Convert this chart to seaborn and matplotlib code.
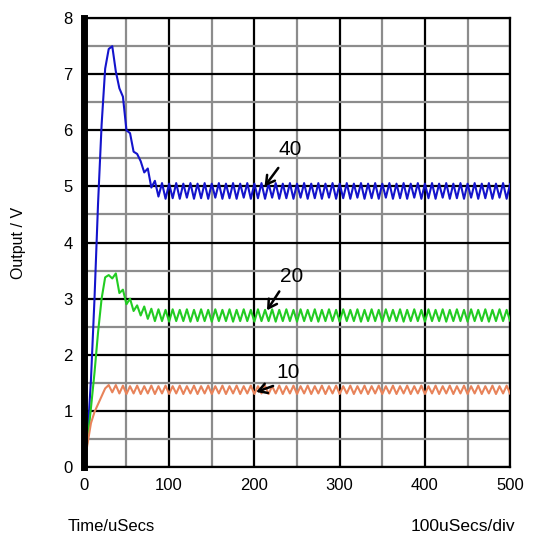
import numpy as np
import pandas as pd
import matplotlib
matplotlib.use("Agg")
import matplotlib.pyplot as plt
import seaborn as sns

# ── Data (one sample every half ripple period) ───────────────────────────────
# ripple period ~8.33 uSecs -> samples every 4.17 uSecs, 121 samples over 500
TIME_US = np.linspace(0, 500, 121)

OUT_40 = [
    0.00, 0.50, 1.55, 3.00, 4.70, 6.10, 7.10, 7.45, 7.50, 7.05,
    6.75, 6.60, 6.00, 5.95, 5.62, 5.58, 5.45, 5.25, 5.32, 4.98,
    5.10, 4.82, 5.06, 4.78, 5.05, 4.79, 5.06, 4.78, 5.05, 4.80,
    5.06, 4.78, 5.05, 4.79, 5.06, 4.78, 5.05, 4.80, 5.06, 4.78,
    5.05, 4.79, 5.06, 4.78, 5.05, 4.80, 5.06, 4.78, 5.05, 4.79,
    5.06, 4.78, 5.05, 4.80, 5.06, 4.78, 5.05, 4.79, 5.06, 4.78,
    5.05, 4.80, 5.06, 4.78, 5.05, 4.79, 5.06, 4.78, 5.05, 4.80,
    5.06, 4.78, 5.05, 4.79, 5.06, 4.78, 5.05, 4.80, 5.06, 4.78,
    5.05, 4.79, 5.06, 4.78, 5.05, 4.80, 5.06, 4.78, 5.05, 4.79,
    5.06, 4.78, 5.05, 4.80, 5.06, 4.78, 5.05, 4.79, 5.06, 4.78,
    5.05, 4.80, 5.06, 4.78, 5.05, 4.79, 5.06, 4.78, 5.05, 4.80,
    5.06, 4.78, 5.05, 4.79, 5.06, 4.78, 5.05, 4.80, 5.06, 4.78,
    5.05,
]

OUT_20 = [
    0.00, 0.45, 1.05, 1.68, 2.40, 3.00, 3.38, 3.42, 3.36, 3.45,
    3.10, 3.16, 2.90, 3.00, 2.78, 2.88, 2.70, 2.86, 2.64, 2.82,
    2.60, 2.81, 2.60, 2.80, 2.59, 2.81, 2.60, 2.80, 2.60, 2.81,
    2.59, 2.80, 2.60, 2.81, 2.60, 2.80, 2.59, 2.81, 2.60, 2.80,
    2.60, 2.81, 2.59, 2.80, 2.60, 2.81, 2.60, 2.80, 2.59, 2.81,
    2.60, 2.80, 2.60, 2.81, 2.59, 2.80, 2.60, 2.81, 2.60, 2.80,
    2.59, 2.81, 2.60, 2.80, 2.60, 2.81, 2.59, 2.80, 2.60, 2.81,
    2.60, 2.80, 2.59, 2.81, 2.60, 2.80, 2.60, 2.81, 2.59, 2.80,
    2.60, 2.81, 2.60, 2.80, 2.59, 2.81, 2.60, 2.80, 2.60, 2.81,
    2.59, 2.80, 2.60, 2.81, 2.60, 2.80, 2.59, 2.81, 2.60, 2.80,
    2.60, 2.81, 2.59, 2.80, 2.60, 2.81, 2.60, 2.80, 2.59, 2.81,
    2.60, 2.80, 2.60, 2.81, 2.59, 2.80, 2.60, 2.81, 2.60, 2.80,
    2.60,
]

OUT_10 = [
    0.00, 0.40, 0.78, 0.98, 1.12, 1.26, 1.40, 1.46, 1.33, 1.46,
    1.31, 1.45, 1.30, 1.44, 1.31, 1.45, 1.30, 1.44, 1.31, 1.45,
    1.30, 1.44, 1.31, 1.45, 1.30, 1.44, 1.31, 1.45, 1.30, 1.44,
    1.31, 1.45, 1.30, 1.44, 1.31, 1.45, 1.30, 1.44, 1.31, 1.45,
    1.30, 1.44, 1.31, 1.45, 1.30, 1.44, 1.31, 1.45, 1.30, 1.44,
    1.31, 1.45, 1.30, 1.44, 1.31, 1.45, 1.30, 1.44, 1.31, 1.45,
    1.30, 1.44, 1.31, 1.45, 1.30, 1.44, 1.31, 1.45, 1.30, 1.44,
    1.31, 1.45, 1.30, 1.44, 1.31, 1.45, 1.30, 1.44, 1.31, 1.45,
    1.30, 1.44, 1.31, 1.45, 1.30, 1.44, 1.31, 1.45, 1.30, 1.44,
    1.31, 1.45, 1.30, 1.44, 1.31, 1.45, 1.30, 1.44, 1.31, 1.45,
    1.30, 1.44, 1.31, 1.45, 1.30, 1.44, 1.31, 1.45, 1.30, 1.44,
    1.31, 1.45, 1.30, 1.44, 1.31, 1.45, 1.30, 1.44, 1.31, 1.45,
    1.30,
]

GAINS  = ["40", "20", "10"]
COLORS = ["#1414cc", "#22cc22", "#e8835a"]

# label text position, arrow tail, arrow head (data coords)
LABEL_POS  = [(242, 5.65), (244, 3.39), (239, 1.68)]
ARROW_TAIL = [(230, 5.37), (231, 3.17), (225, 1.46)]
ARROW_HEAD = [(210, 4.96), (213, 2.75), (199, 1.32)]

X_MAJOR = np.arange(0, 501, 100)
Y_MAJOR = np.arange(0, 9, 1)

# ── Long-form frame ──────────────────────────────────────────────────────────
df = pd.concat([
    pd.DataFrame({"t": TIME_US, "v": vals, "gain": g})
    for g, vals in zip(GAINS, [OUT_40, OUT_20, OUT_10])
])

# ── Figure ───────────────────────────────────────────────────────────────────
sns.set_style("white")
plt.rcParams["font.family"] = ["Liberation Sans", "DejaVu Sans"]
plt.rcParams.update({
    "text.color": "black",
    "axes.labelcolor": "black",
    "xtick.color": "black",
    "ytick.color": "black",
})

fig = plt.figure(figsize=(5.48, 5.50), dpi=100)
ax = fig.add_axes([0.153, 0.151, 0.778, 0.816])

sns.lineplot(data=df, x="t", y="v", hue="gain", palette=COLORS,
             hue_order=GAINS, linewidth=1.5, legend=False, ax=ax, zorder=3)
for line in ax.get_lines():
    line.set_solid_joinstyle("round")

ax.set_xlim(0, 500)
ax.set_ylim(0, 8)
ax.set_xticks(X_MAJOR)
ax.set_xticks(np.arange(50, 500, 100), minor=True)
ax.set_yticks(Y_MAJOR)
ax.set_yticks(np.arange(0.5, 8, 1), minor=True)
ax.grid(which="major", color="black", linewidth=1.6)
ax.grid(which="minor", color="#8c8c8c", linewidth=1.6)
ax.set_axisbelow(True)
ax.tick_params(which="both", length=0, labelsize=12, pad=8)

for side in ["top", "right", "bottom"]:
    ax.spines[side].set_color("black")
    ax.spines[side].set_linewidth(1.6)
ax.spines["left"].set_color("black")
ax.spines["left"].set_linewidth(5)
ax.spines["left"].set_zorder(4)

ax.set_xlabel("")
ax.set_ylabel("Output / V", fontsize=11.5, labelpad=27)

for g, pos, tail, head in zip(GAINS, LABEL_POS, ARROW_TAIL, ARROW_HEAD):
    ax.text(pos[0], pos[1], g, fontsize=15, ha="center", va="center",
            zorder=5)
    ax.annotate("", xy=head, xytext=tail,
                arrowprops=dict(arrowstyle="->,head_length=0.6,head_width=0.35",
                                color="black", lw=1.8),
                zorder=5)

fig.text(0.124, 0.042, "Time/uSecs", fontsize=12, ha="left", va="center")
fig.text(0.94, 0.042, "100uSecs/div", fontsize=12.5, ha="right", va="center")

plt.savefig("out.png", dpi=100)
plt.close()
